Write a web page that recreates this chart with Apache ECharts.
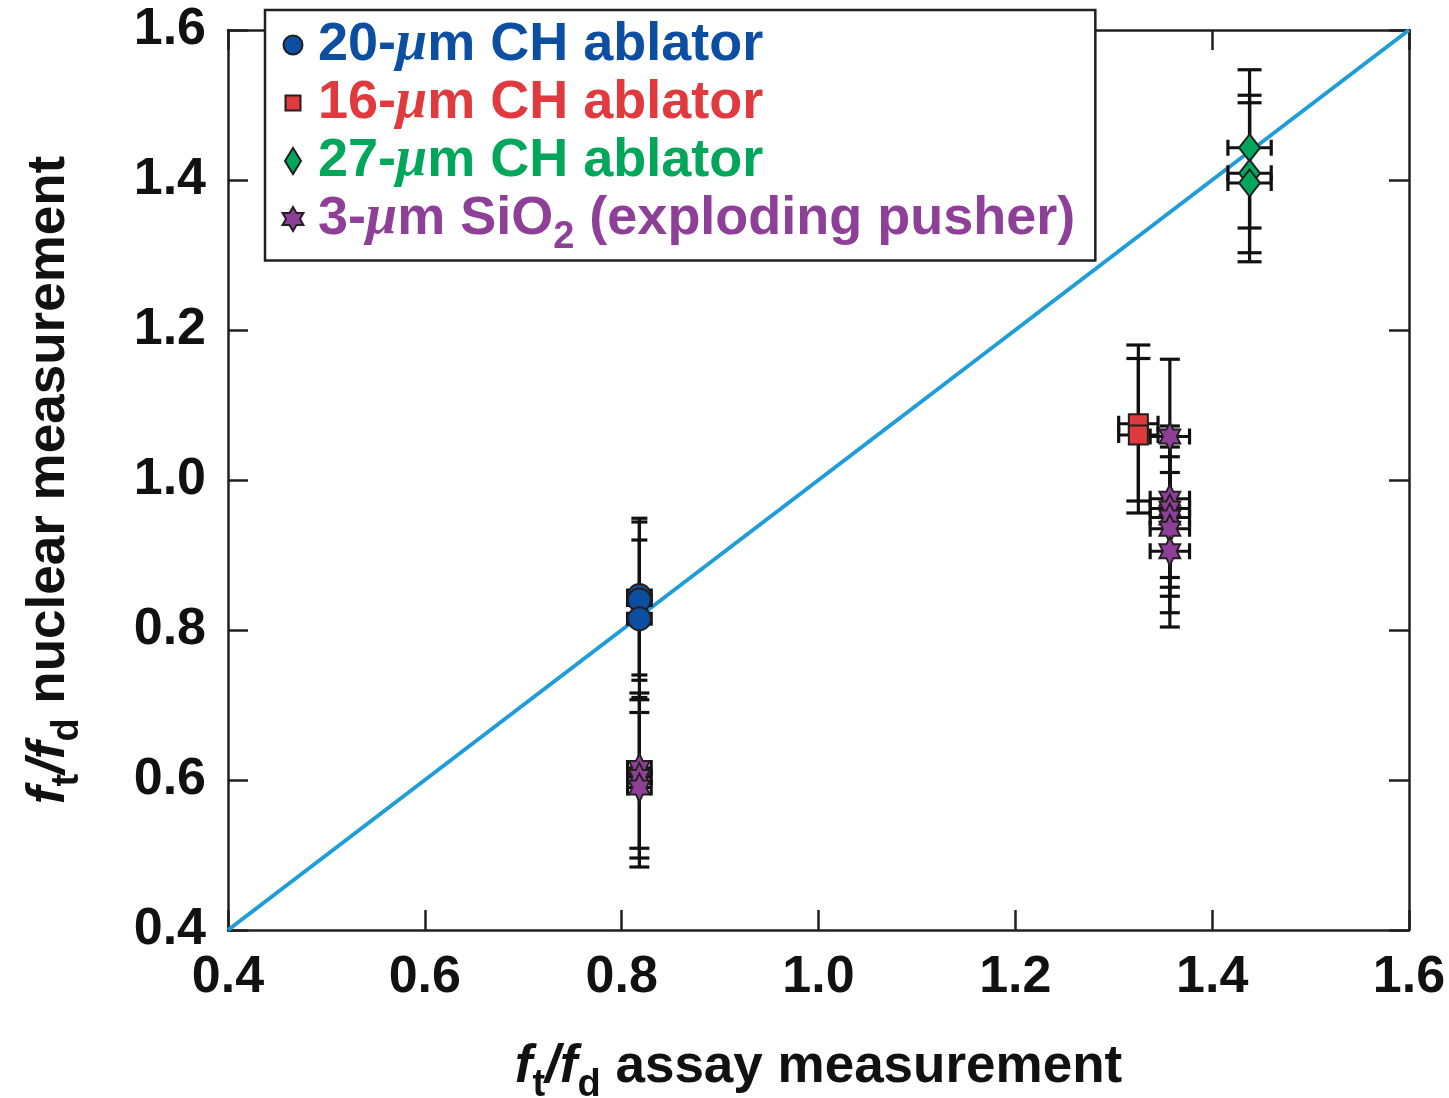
<!DOCTYPE html>
<html><head><meta charset="utf-8">
<script src="https://cdn.jsdelivr.net/npm/echarts@6/dist/echarts.min.js"></script>
<style>html,body{margin:0;padding:0;background:#fff}#c{width:1449px;height:1098px}</style>
</head><body><div id="c"></div><script>
// ---------- data ----------
const axisMin = 0.4, axisMax = 1.6, axisStep = 0.2;
const tickLabels = ['0.4','0.6','0.8','1.0','1.2','1.4','1.6'];
const seriesNames = ['20-μm CH ablator','16-μm CH ablator','27-μm CH ablator','3-μm SiO2 (exploding pusher)'];

const diagX = [0.4, 1.6];
const diagY = [0.4, 1.6];

// 20-um CH (blue circles)
const blueX    = [0.818, 0.818, 0.818];
const blueY    = [0.846, 0.840, 0.815];
const blueXErr = [0.012, 0.012, 0.012];
const blueYLo  = [0.740, 0.733, 0.710];
const blueYHi  = [0.949, 0.944, 0.920];

// 16-um CH (red squares)
const redX    = [1.325, 1.325];
const redY    = [1.075, 1.060];
const redXErr = [0.020, 0.020];
const redYLo  = [0.972, 0.956];
const redYHi  = [1.180, 1.162];

// 27-um CH (green diamonds)
const greenX    = [1.438, 1.438, 1.438];
const greenY    = [1.443, 1.409, 1.396];
const greenXErr = [0.022, 0.022, 0.022];
const greenYLo  = [1.336, 1.303, 1.291];
const greenYHi  = [1.547, 1.513, 1.503];

// 3-um SiO2 (purple stars)
const purpX    = [0.818, 0.818, 0.818, 1.357, 1.357, 1.357, 1.357, 1.357, 1.357];
const purpY    = [0.616, 0.604, 0.590, 1.058, 0.975, 0.962, 0.950, 0.935, 0.905];
const purpXErr = [0.012, 0.012, 0.012, 0.020, 0.020, 0.020, 0.020, 0.020, 0.020];
const purpYLo  = [0.509, 0.496, 0.484, 0.955, 0.870, 0.857, 0.845, 0.823, 0.804];
const purpYHi  = [0.716, 0.707, 0.690, 1.161, 1.072, 1.066, 1.044, 1.031, 1.010];

// ---------- styling ----------
const FONT = '"Liberation Sans", Arial, Helvetica, sans-serif';
const SERIF = '"Liberation Serif", "DejaVu Serif", serif';
const INK = '#231f20';
const COL = {b:'#0b4ea2', r:'#e0393e', g:'#00a65a', p:'#8e3f97'};
const STAR = 'path://M100 0L128.9 50L186.6 50L157.7 100L186.6 150L128.9 150L100 200L71.1 150L13.4 150L42.3 100L13.4 50L71.1 50Z';
const STAR_ICON = 'path://M100 -8M100 208M100 0L128.9 50L186.6 50L157.7 100L186.6 150L128.9 150L100 200L71.1 150L13.4 150L42.3 100L13.4 50L71.1 50Z';
const CIRCLE_ICON = 'path://M0 0M26 26M3.5 13A9.5 9.5 0 1 1 22.5 13A9.5 9.5 0 1 1 3.5 13Z';
const SQUARE_ICON = 'path://M0 0M26 26M5.5 5.5H20.5V20.5H5.5Z';
const DIAMOND_ICON = 'path://M4 13L12 0L20 13L12 26Z';

function zip(xs, ys) { return xs.map((x, i) => [x, ys[i]]); }
function zipErr(xs, ys, xe, lo, hi) { return xs.map((x, i) => [x, ys[i], xe[i], lo[i], hi[i]]); }

function errSeries(data, capV, capH) {
  return {
    type: 'custom', z: 2, silent: true,
    data: data,
    encode: {x: 0, y: 1},
    renderItem: function (params, api) {
      const x = api.value(0), y = api.value(1), xe = api.value(2), lo = api.value(3), hi = api.value(4);
      const pLo = api.coord([x, lo]), pHi = api.coord([x, hi]);
      const pL = api.coord([x - xe, y]), pR = api.coord([x + xe, y]);
      const st = {stroke: '#111', lineWidth: 3.2};
      const L = (x1, y1, x2, y2) => ({type: 'line', shape: {x1, y1, x2, y2}, style: st});
      return {type: 'group', children: [
        L(pLo[0], pLo[1], pHi[0], pHi[1]),
        L(pLo[0] - capV, pLo[1], pLo[0] + capV, pLo[1]),
        L(pHi[0] - capV, pHi[1], pHi[0] + capV, pHi[1]),
        L(pL[0], pL[1], pR[0], pR[1]),
        L(pL[0], pL[1] - capH, pL[0], pL[1] + capH),
        L(pR[0], pR[1] - capH, pR[0], pR[1] + capH)
      ]};
    }
  };
}

function scatter(name, data, symbol, size, color) {
  return {
    type: 'scatter', name: name, z: 3, data: data,
    symbol: symbol, symbolSize: size, symbolKeepAspect: true,
    itemStyle: {color: color, borderColor: INK, borderWidth: 2, opacity: 1},
    emphasis: {disabled: true}
  };
}

// legend rich text
const legendRich = {};
['b','r','g','p'].forEach(k => {
  legendRich['t' + k] = {color: COL[k], fontFamily: FONT, fontWeight: 'bold', fontSize: 54, lineHeight: 58};
  legendRich['m' + k] = {color: COL[k], fontFamily: SERIF, fontStyle: 'italic', fontWeight: 'bold', fontSize: 56, lineHeight: 58};
  legendRich['s' + k] = {color: COL[k], fontFamily: FONT, fontWeight: 'bold', fontSize: 38, height: 1, lineHeight: 38, padding: [37, 0, 0, 0]};
});
const legendText = {};
legendText[seriesNames[0]] = '{tb|20-}{mb|μ}{tb|m CH ablator}';
legendText[seriesNames[1]] = '{tr|16-}{mr|μ}{tr|m CH ablator}';
legendText[seriesNames[2]] = '{tg|27-}{mg|μ}{tg|m CH ablator}';
legendText[seriesNames[3]] = '{tp|3-}{mp|μ}{tp|m SiO}{sp|2}{tp| (exploding pusher)}';

const nameRich = {
  n: {fontFamily: FONT, fontWeight: 'bold', fontSize: 53, lineHeight: 58, color: '#111'},
  i: {fontFamily: FONT, fontWeight: 'bold', fontStyle: 'italic', fontSize: 53, lineHeight: 58, color: '#111'},
  s: {fontFamily: FONT, fontWeight: 'bold', fontSize: 38, height: 1, lineHeight: 38, padding: [37, 0, 0, 0], color: '#111'}
};

function axisCommon(extra) {
  return Object.assign({
    type: 'value', min: axisMin, max: axisMax, interval: axisStep,
    splitLine: {show: false},
    axisLine: {show: true, onZero: false, lineStyle: {color: INK, width: 2.5}},
    axisTick: {show: true, inside: true, length: 20, lineStyle: {color: INK, width: 2.5}},
    axisLabel: {show: false}
  }, extra);
}
const labelStyle = {
  show: true, fontFamily: FONT, fontWeight: 'bold', fontSize: 52, color: '#111', margin: 22,
  formatter: v => tickLabels[Math.round((v - axisMin) / axisStep)]
};

const chart = echarts.init(document.getElementById('c'), null, {renderer: 'canvas'});
chart.setOption({
  animation: false,
  backgroundColor: '#fff',
  grid: {left: 228, right: 40, top: 30, bottom: 168, outerBoundsMode: 'none', containLabel: false},
  legend: {
    orient: 'vertical', left: 265, top: 10,
    padding: [6, 20, 4, 14], itemGap: 0,
    itemWidth: 40, itemHeight: 26, symbolKeepAspect: true,
    backgroundColor: '#fff', borderColor: INK, borderWidth: 2.5, borderRadius: 0,
    selectedMode: false,
    data: [
      {name: seriesNames[0], icon: CIRCLE_ICON},
      {name: seriesNames[1], icon: SQUARE_ICON},
      {name: seriesNames[2], icon: DIAMOND_ICON},
      {name: seriesNames[3], icon: STAR_ICON}
    ],
    formatter: name => legendText[name],
    textStyle: {fontFamily: FONT, fontWeight: 'bold', fontSize: 54, lineHeight: 58, rich: legendRich}
  },
  xAxis: [
    axisCommon({
      position: 'bottom', axisLabel: labelStyle,
      name: '{i|f}{s|t}{i|/f}{s|d}{n| assay measurement}',
      nameLocation: 'middle', nameGap: 108, nameMoveOverlap: false,
      nameTextStyle: {fontFamily: FONT, fontWeight: 'bold', fontSize: 53, lineHeight: 58, color: '#111', rich: nameRich}
    }),
    axisCommon({position: 'top'})
  ],
  yAxis: [
    axisCommon({
      position: 'left', axisLabel: labelStyle,
      name: '{i|f}{s|t}{i|/f}{s|d}{n| nuclear measurement}',
      nameLocation: 'middle', nameGap: 150, nameMoveOverlap: false,
      nameTextStyle: {fontFamily: FONT, fontWeight: 'bold', fontSize: 53, lineHeight: 58, color: '#111', rich: nameRich}
    }),
    axisCommon({position: 'right'})
  ],
  series: [
    {type: 'line', z: 1, data: zip(diagX, diagY), symbol: 'none', silent: true,
     lineStyle: {color: '#1e9dd8', width: 4}},
    errSeries(zipErr(blueX, blueY, blueXErr, blueYLo, blueYHi), 8, 7),
    errSeries(zipErr(redX, redY, redXErr, redYLo, redYHi), 12, 8),
    errSeries(zipErr(greenX, greenY, greenXErr, greenYLo, greenYHi), 12, 8),
    errSeries(zipErr(purpX, purpY, purpXErr, purpYLo, purpYHi), 10, 8),
    scatter(seriesNames[0], zip(blueX, blueY), 'circle', 23, COL.b),
    scatter(seriesNames[1], zip(redX, redY), 'rect', 19, COL.r),
    scatter(seriesNames[2], zip(greenX, greenY), 'diamond', [21, 27], COL.g),
    scatter(seriesNames[3], zip(purpX, purpY), STAR, [24, 28], COL.p)
  ]
});
</script></body></html>
